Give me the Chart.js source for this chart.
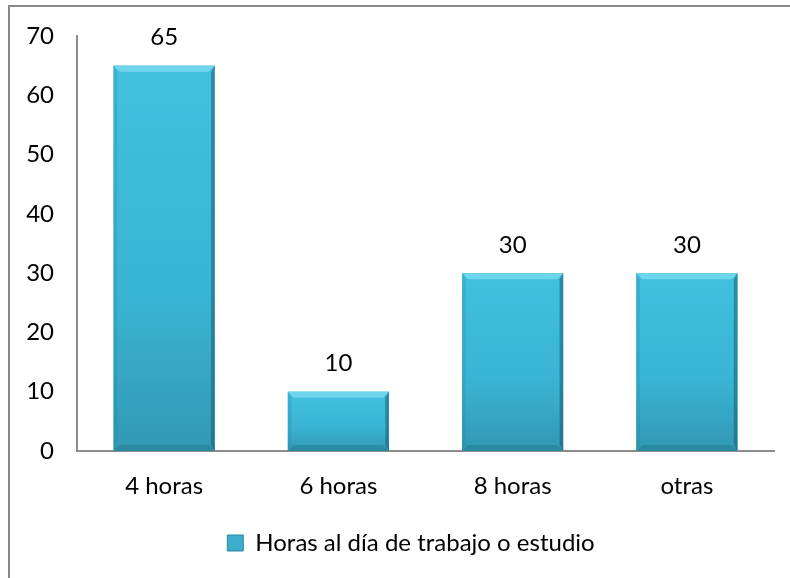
<!DOCTYPE html>
<html>
<head>
<meta charset="utf-8">
<script src="https://cdn.jsdelivr.net/npm/chart.js@4"></script>
<style>
  html, body { margin: 0; padding: 0; background: #fff; }
  #wrap { width: 790px; height: 578px; }
</style>
</head>
<body>
<div id="wrap"><canvas id="horasChart" width="790" height="578"></canvas></div>
<script>
// chart data
const categories = ['4 horas', '6 horas', '8 horas', 'otras'];
const horas = [65, 10, 30, 30];
const seriesLabel = 'Horas al día de trabajo o estudio';
const yTicks = { min: 0, max: 70, step: 10 };

const FONT = "Lato, 'Open Sans', sans-serif";
const FSIZE = 24;

// outer frame (only top and left edges are visible in the crop)
const framePlugin = {
	id: 'frame',
	beforeDraw(chart) {
		const ctx = chart.ctx;
		ctx.save();
		ctx.strokeStyle = '#8a8a8a';
		ctx.lineWidth = 2;
		ctx.beginPath();
		ctx.moveTo(9, chart.height);
		ctx.lineTo(9, 6);
		ctx.lineTo(chart.width, 6);
		ctx.stroke();
		ctx.restore();
	},
	// legend in the original is centred a bit to the right
	afterLayout(chart) {
		if (chart.legend) chart.legend.left += 48;
	}
};

// per-bar gradient, bevel edges and value labels
const bevelPlugin = {
	id: 'bevel',
	afterDatasetsDraw(chart) {
		const ctx = chart.ctx;
		const meta = chart.getDatasetMeta(0);
		ctx.save();
		meta.data.forEach((bar, i) => {
			const w = bar.width;
			const l = bar.x - w / 2, r = bar.x + w / 2;
			const t = bar.y, b = bar.base;
			const s = Math.min(6, (b - t) / 4);
			const g = ctx.createLinearGradient(0, t, 0, b);
			g.addColorStop(0, '#42c0de');
			g.addColorStop(0.6, '#3ab4d4');
			g.addColorStop(1, '#3198b3');
			ctx.fillStyle = g;
			ctx.fillRect(l, t, w, b - t);
			// top bevel
			ctx.fillStyle = 'rgba(130,222,244,0.7)';
			ctx.beginPath();
			ctx.moveTo(l, t); ctx.lineTo(r, t); ctx.lineTo(r - s, t + s); ctx.lineTo(l + s, t + s);
			ctx.fill();
			// left bevel
			ctx.fillStyle = 'rgba(40,130,155,0.25)';
			ctx.beginPath();
			ctx.moveTo(l, t); ctx.lineTo(l + s * 0.6, t + s); ctx.lineTo(l + s * 0.6, b - s); ctx.lineTo(l, b);
			ctx.fill();
			// right bevel
			ctx.fillStyle = 'rgba(20,85,105,0.5)';
			ctx.beginPath();
			ctx.moveTo(r, t); ctx.lineTo(r - s * 0.6, t + s); ctx.lineTo(r - s * 0.6, b - s); ctx.lineTo(r, b);
			ctx.fill();
			// bottom bevel
			ctx.fillStyle = 'rgba(25,100,120,0.3)';
			ctx.beginPath();
			ctx.moveTo(l, b); ctx.lineTo(l + s, b - s); ctx.lineTo(r - s, b - s); ctx.lineTo(r, b);
			ctx.fill();
			// value label
			ctx.fillStyle = '#000';
			ctx.font = FSIZE + 'px ' + FONT;
			ctx.textAlign = 'center';
			ctx.textBaseline = 'bottom';
			ctx.fillText(String(horas[i]), bar.x, t - 16);
		});
		ctx.restore();
	}
};

const data = {
	labels: categories,
	datasets: [
		{
			label: seriesLabel,
			data: horas,
			backgroundColor: '#3ab4d4',
			borderWidth: 0,
			barPercentage: 0.58,
			categoryPercentage: 1
		}
	]
};

const config = {
	type: 'bar',
	data: data,
	options: {
		responsive: false,
		animation: false,
		layout: {
			padding: { top: 36, right: 16, bottom: 13, left: 0 }
		},
		plugins: {
			legend: {
				display: true,
				position: 'bottom',
				labels: {
					color: '#000',
					font: { family: FONT, size: FSIZE },
					boxWidth: 16,
					boxHeight: 16,
					padding: 10,
					generateLabels(chart) {
						return [{
							text: seriesLabel,
							fillStyle: '#3aaecb',
							strokeStyle: '#2b8aa3',
							lineWidth: 1,
							datasetIndex: 0
						}];
					}
				}
			},
			tooltip: { enabled: false }
		},
		scales: {
			y: {
				min: yTicks.min,
				max: yTicks.max,
				ticks: {
					stepSize: yTicks.step,
					color: '#000',
					font: { family: FONT, size: FSIZE },
					padding: 15
				},
				grid: { display: false },
				border: { display: true, color: '#8c8c8c', width: 2 },
				afterFit(scale) { scale.width = 77; }
			},
			x: {
				ticks: {
					color: '#000',
					font: { family: FONT, size: FSIZE },
					padding: 13
				},
				grid: { display: false },
				border: { display: true, color: '#8c8c8c', width: 2 },
				afterFit(scale) { scale.height = 70; }
			}
		}
	},
	plugins: [framePlugin, bevelPlugin]
};

const horasChart = new Chart(document.getElementById('horasChart'), config);
</script>
</body>
</html>
